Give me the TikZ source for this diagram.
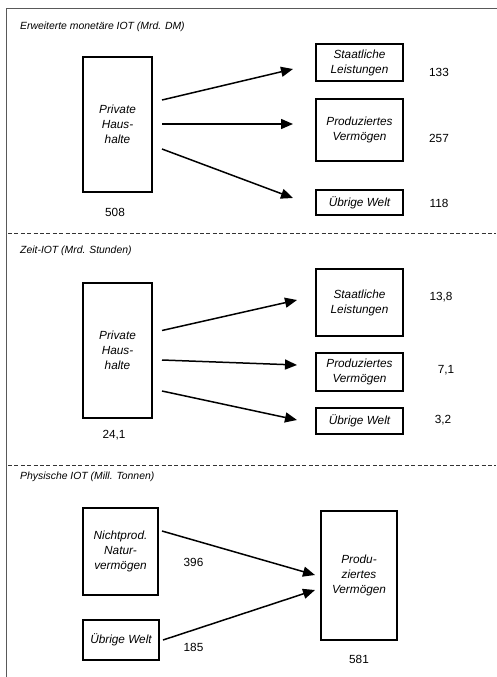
\documentclass[tikz,border=0pt]{standalone}
\usepackage{fontspec}
\setmainfont{Liberation Sans}
\usetikzlibrary{arrows.meta}

\begin{document}
\begin{tikzpicture}[x=1pt,y=-1pt,
  frame/.style={draw=black!65,line width=1.8pt},
  sep/.style={draw=black!80,line width=0.9pt,dash pattern=on 4pt off 2.4pt},
  title/.style={anchor=west,inner sep=0pt,font=\fontsize{10.4}{12}\selectfont\itshape},
  box/.style={draw,line width=2pt,inner sep=0pt,align=center,
    font=\fontsize{11.8}{15}\selectfont\itshape},
  num/.style={inner sep=0pt,font=\fontsize{11.8}{13}\selectfont},
  arr/.style={line width=1.5pt,-{Triangle[length=12pt,width=10pt]}}]

\useasboundingbox (0,0) rectangle (496,677);
\fill[white] (0,0) rectangle (496,677);
\draw[frame] (6.5,8.5) -- (6.5,690) (6.5,8.5) -- (505,8.5);

% --- Erweiterte monetaere IOT ---
\node[title] (t1) at (20,27) {Erweiterte monetäre IOT (Mrd. DM)};
\node[box,minimum width=69pt,minimum height=135pt] (ph1) at (117.5,124.5) {Private\\Haus-\\halte};
\node[box,minimum width=87pt,minimum height=37pt] (sl1) at (359.5,62.5) {Staatliche\\Leistungen};
\node[box,minimum width=87pt,minimum height=62pt] (pv1) at (359.5,130) {Produziertes\\Vermögen};
\node[box,minimum width=87pt,minimum height=25pt] (uw1) at (359.5,202.5) {Übrige Welt};
\node[num] (n508) at (115,212) {508};
\node[num] (n133) at (439,72) {133};
\node[num] (n257) at (439,138) {257};
\node[num] (n118) at (439,203) {118};
\draw[arr] ([xshift=9pt,yshift=24.5pt]ph1.east) -- ([xshift=-22pt,yshift=-6.5pt]sl1.west);
\draw[arr] ([xshift=9pt,yshift=0.5pt]ph1.east) -- ([xshift=-22pt,yshift=6pt]pv1.west);
\draw[arr] ([xshift=9pt,yshift=-24.5pt]ph1.east) -- ([xshift=-22pt,yshift=4.5pt]uw1.west);

\draw[sep] (8,233) -- (496,233);

% --- Zeit-IOT ---
\node[title] (t2) at (20,251) {Zeit-IOT (Mrd. Stunden)};
\node[box,minimum width=69pt,minimum height=135pt] (ph2) at (117.5,350.5) {Private\\Haus-\\halte};
\node[box,minimum width=87pt,minimum height=67pt] (sl2) at (359.5,302.5) {Staatliche\\Leistungen};
\node[box,minimum width=87pt,minimum height=38pt] (pv2) at (359.5,372) {Produziertes\\Vermögen};
\node[box,minimum width=87pt,minimum height=26pt] (uw2) at (359.5,421) {Übrige Welt};
\node[num] (n241) at (114,435) {24,1};
\node[num] (n138) at (441,297) {13,8};
\node[num] (n71) at (446,370) {7,1};
\node[num] (n32) at (443,420) {3,2};
\draw[arr] ([xshift=9pt,yshift=20pt]ph2.east) -- ([xshift=-18pt,yshift=2.5pt]sl2.west);
\draw[arr] ([xshift=9pt,yshift=-9.5pt]ph2.east) -- ([xshift=-18pt,yshift=7pt]pv2.west);
\draw[arr] ([xshift=9pt,yshift=-40.5pt]ph2.east) -- ([xshift=-18pt,yshift=1pt]uw2.west);

\draw[sep] (8,465) -- (496,465);

% --- Physische IOT ---
\node[title] (t3) at (20,477) {Physische IOT (Mill. Tonnen)};
\node[box,minimum width=75pt,minimum height=87pt] (np) at (120.5,551.5) {Nichtprod.\\Natur-\\vermögen};
\node[box,minimum width=76pt,minimum height=40pt] (uw3) at (121,640) {Übrige Welt};
\node[box,minimum width=76pt,minimum height=129pt] (pv3) at (359,575.5) {Produ-\\ziertes\\Vermögen};
\node[num] (n396) at (193.5,562) {396};
\node[num] (n185) at (193.5,647) {185};
\node[num] (n581) at (359,659) {581};
\draw[arr] ([xshift=3pt,yshift=20.5pt]np.east) -- ([xshift=-5pt,yshift=0.5pt]pv3.west);
\draw[arr] ([xshift=3pt]uw3.east) -- ([xshift=-5pt,yshift=-14.5pt]pv3.west);
\end{tikzpicture}
\end{document}
